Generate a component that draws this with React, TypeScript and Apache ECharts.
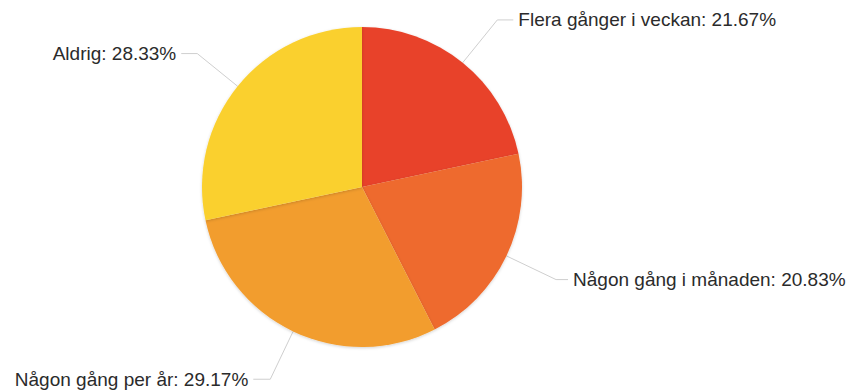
import React, { useEffect, useRef } from "react";
import * as echarts from "echarts";

const categories = [
  "Flera gånger i veckan",
  "Någon gång i månaden",
  "Någon gång per år",
  "Aldrig",
];
const values = [21.67, 20.83, 29.17, 28.33];
const colors = ["#E8432B", "#EE6A2D", "#F29D2F", "#FAD02F"];
const lineLengths = [55, 55, 53, 52];
const lineLengths2 = [16, 12, 17, 16];

export default function App() {
  const ref = useRef<HTMLDivElement>(null);
  useEffect(() => {
    document.body.style.margin = "0";
    const chart = echarts.init(ref.current!, null, { renderer: "svg" });
    chart.setOption({
      animation: false,
      backgroundColor: "#ffffff",
      series: [
        {
          type: "pie",
          center: [362, 187],
          radius: 160,
          startAngle: 90,
          clockwise: true,
          avoidLabelOverlap: false,
          data: categories.map((name, i) => ({
            name,
            value: values[i],
            itemStyle: { color: colors[i] },
            labelLine: { length: lineLengths[i], length2: lineLengths2[i] },
          })),
          itemStyle: {
            borderWidth: 0,
            shadowBlur: 3,
            shadowOffsetY: 1,
            shadowColor: "rgba(0,0,0,0.18)",
          },
          label: {
            show: true,
            position: "outside",
            formatter: (p: any) => `${p.name}: ${p.value.toFixed(2)}%`,
            fontFamily: "'Liberation Sans', Arial, Helvetica, sans-serif",
            fontSize: 19,
            color: "#2b2b2b",
            distanceToLabelLine: 5,
          },
          labelLine: {
            show: true,
            smooth: false,
            lineStyle: { color: "#cfcfcf", width: 1 },
          },
          emphasis: { disabled: true },
        },
      ],
    });
    return () => chart.dispose();
  }, []);
  return (
    <div
      ref={ref}
      style={{ position: "absolute", left: 0, top: 0, width: 853, height: 390 }}
    />
  );
}
